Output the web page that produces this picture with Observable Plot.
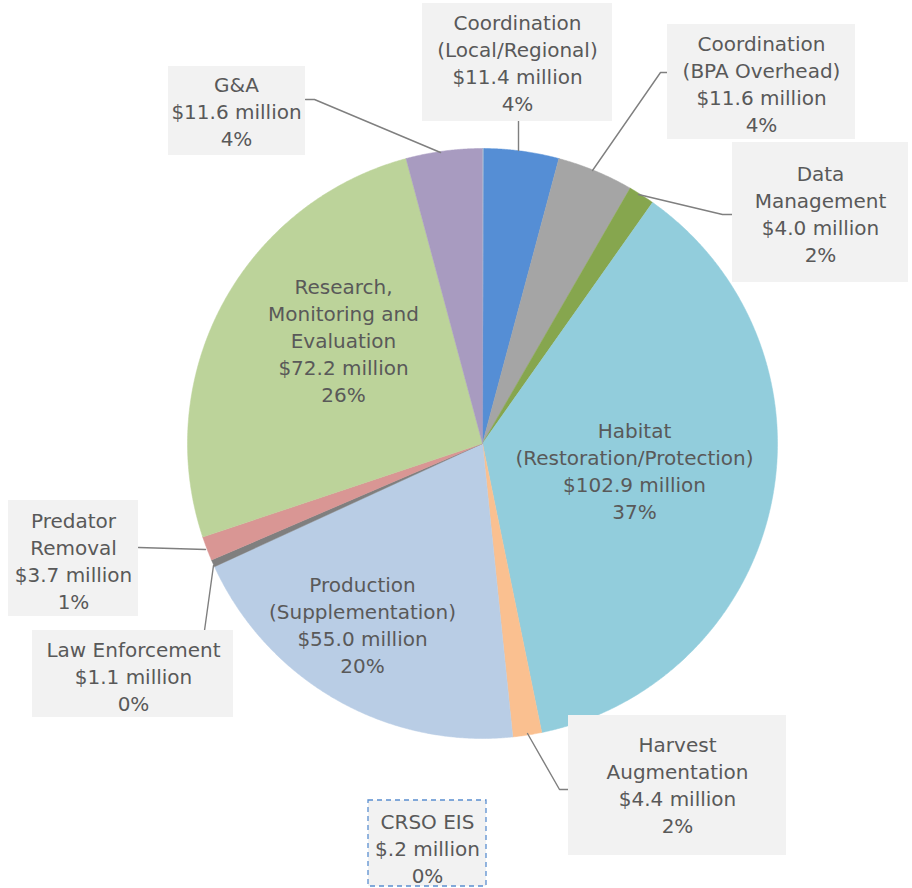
<!DOCTYPE html>
<html>
<head>
<meta charset="utf-8">
<script src="https://cdn.jsdelivr.net/npm/d3@7"></script>
<script src="https://cdn.jsdelivr.net/npm/@observablehq/plot@0.6"></script>
<style>
  html, body { margin: 0; padding: 0; background: #fff; }
  #chart svg { display: block; }
</style>
</head>
<body>
<div id="chart"></div>
<script>
// ---- Data ----
const categories = [
  "CRSO EIS",
  "Coordination (Local/Regional)",
  "Coordination (BPA Overhead)",
  "Data Management",
  "Habitat (Restoration/Protection)",
  "Harvest Augmentation",
  "Production (Supplementation)",
  "Law Enforcement",
  "Predator Removal",
  "Research, Monitoring and Evaluation",
  "G&A"
];
const valuesMillion = [0.2, 11.4, 11.6, 4.0, 102.9, 4.4, 55.0, 1.1, 3.7, 72.2, 11.6];
const percentLabels = ["0%", "4%", "4%", "2%", "37%", "2%", "20%", "0%", "1%", "26%", "4%"];
const amountLabels = ["$.2 million", "$11.4 million", "$11.6 million", "$4.0 million", "$102.9 million",
  "$4.4 million", "$55.0 million", "$1.1 million", "$3.7 million", "$72.2 million", "$11.6 million"];
const nameLines = [
  "CRSO EIS",
  "Coordination\n(Local/Regional)",
  "Coordination\n(BPA Overhead)",
  "Data\nManagement",
  "Habitat\n(Restoration/Protection)",
  "Harvest\nAugmentation",
  "Production\n(Supplementation)",
  "Law Enforcement",
  "Predator\nRemoval",
  "Research,\nMonitoring and\nEvaluation",
  "G&A"
];
const colors = ["#9cc8dc", "#558ed5", "#a5a5a5", "#86a64e", "#92cddc", "#fac090",
  "#b9cde5", "#7f7f7f", "#d99694", "#bcd39a", "#a89bc0"];

// ---- Layout (pixels) ----
const W = 912, H = 888;
const CX = 482, CY = 443, R = 295;
const labelLayout = [
  {tx: 427, ty: 847, box: [368, 800, 486, 886], dashed: true, leader: null},
  {tx: 517, ty: 61, box: [422, 3, 612, 121], leader: [[518, 121], [518, 150]]},
  {tx: 761, ty: 82, box: [667, 24, 855, 139], leader: [[592, 170], [660, 72], [667, 72]]},
  {tx: 820, ty: 212, box: [732, 142, 908, 282], leader: [[638, 194], [722, 214], [732, 214]]},
  {tx: 634, ty: 469, box: null, leader: null},
  {tx: 677, ty: 783, box: [568, 715, 786, 855], leader: [[527, 733], [559, 789], [568, 789]]},
  {tx: 362, ty: 623, box: null, leader: null},
  {tx: 133, ty: 675, box: [32, 630, 233, 717], leader: [[213, 565], [204, 630]]},
  {tx: 73, ty: 559, box: [8, 500, 138, 616], leader: [[205, 549], [138, 547]]},
  {tx: 343, ty: 339, box: null, leader: null},
  {tx: 236, ty: 110, box: [168, 66, 305, 155], leader: [[440, 152], [314, 99], [305, 99]]}
];

// ---- Build pie geometry from values ----
const pie = d3.pie().sort(null).value(d => d)(valuesMillion);
const slicePts = [];
pie.forEach((p, i) => {
  const steps = Math.max(2, Math.ceil((p.endAngle - p.startAngle) / 0.005));
  slicePts.push({k: i, c: colors[i], x: CX, y: CY});
  for (let s = 0; s <= steps; s++) {
    const a = p.startAngle + (p.endAngle - p.startAngle) * s / steps;
    slicePts.push({k: i, c: colors[i], x: CX + R * Math.sin(a), y: CY - R * Math.cos(a)});
  }
});
const rimPts = d3.range(0, 361, 1).map(a => ({x: CX + R * Math.sin(a * Math.PI / 180), y: CY + 3 - R * Math.cos(a * Math.PI / 180)}));

const boxes = labelLayout.map((l, i) => ({...l, i})).filter(l => l.box && !l.dashed);
const dashedBoxes = labelLayout.map((l, i) => ({...l, i})).filter(l => l.box && l.dashed);
const leaderPts = [];
labelLayout.forEach((l, i) => { if (l.leader) l.leader.forEach(p => leaderPts.push({k: i, x: p[0], y: p[1]})); });
const texts = categories.map((c, i) => ({
  i, x: labelLayout[i].tx, y: labelLayout[i].ty,
  t: nameLines[i] + "\n" + amountLabels[i] + "\n" + percentLabels[i]
}));

const chart = Plot.plot({
  width: W, height: H,
  margin: 0,
  x: {domain: [0, W], range: [0, W], axis: null},
  y: {domain: [0, H], range: [0, H], axis: null},
  color: {type: "identity"},
  marks: [
    Plot.line(rimPts, {x: "x", y: "y", fill: "#000", fillOpacity: 0.35, stroke: "none", curve: "linear-closed", ariaLabel: "shadow"}),
    Plot.line(slicePts, {x: "x", y: "y", z: "k", fill: "c", stroke: "c", strokeWidth: 0.5, curve: "linear-closed"}),
    Plot.line(leaderPts, {x: "x", y: "y", z: "k", stroke: "#7f7f7f", strokeWidth: 1.4}),
    Plot.rect(boxes, {x1: d => d.box[0], y1: d => d.box[1], x2: d => d.box[2], y2: d => d.box[3], fill: "#f2f2f2"}),
    Plot.rect(dashedBoxes, {x1: d => d.box[0], y1: d => d.box[1], x2: d => d.box[2], y2: d => d.box[3],
      fill: "#f2f2f2", stroke: "#5b8fd0", strokeDasharray: "5,4", strokeWidth: 1.3}),
    Plot.text(texts, {x: "x", y: "y", text: "t", fill: "#595959", fontSize: 20,
      lineHeight: 1.35, lineAnchor: "middle", textAnchor: "middle", ariaLabel: "labels"})
  ],
  style: {fontFamily: "'DejaVu Sans', sans-serif", background: "#fff"}
});

const svg = d3.select(chart);
const defs = svg.insert("defs", ":first-child");
defs.append("filter").attr("id", "blurShadow").attr("x", "-20%").attr("y", "-20%").attr("width", "140%").attr("height", "140%")
  .append("feGaussianBlur").attr("stdDeviation", 3);
svg.select("g[aria-label='shadow']").attr("filter", "url(#blurShadow)");
svg.select("g[aria-label='labels']").style("letter-spacing", "0.7px");

document.getElementById("chart").appendChild(chart);
</script>
</body>
</html>
